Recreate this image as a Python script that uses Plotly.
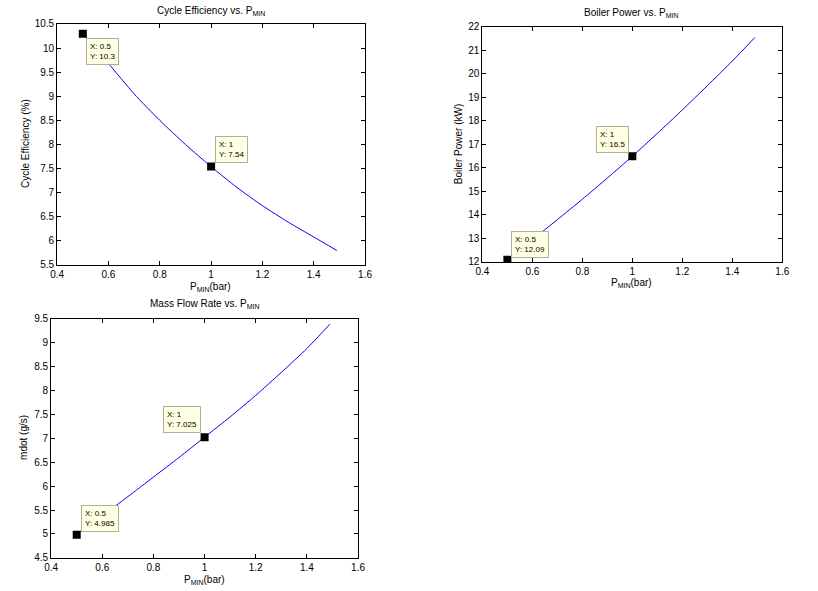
import plotly.graph_objects as go

# ---- data ----
p_min = [0.5, 0.6, 0.7, 0.8, 0.9, 1.0, 1.1, 1.2, 1.3, 1.4, 1.49]
cycle_eff = [10.3, 9.68, 9.05, 8.5, 8.0, 7.54, 7.11, 6.73, 6.39, 6.08, 5.80]
boiler_power = [12.09, 12.95, 13.8, 14.67, 15.57, 16.5, 17.47, 18.47, 19.5, 20.55, 21.55]
mdot = [4.985, 5.38, 5.78, 6.19, 6.6, 7.025, 7.45, 7.9, 8.38, 8.88, 9.39]

tip_idx = [0, 5]  # data tips at P_MIN = 0.5 and 1
tip_labels = {
    "cycle": ["10.3", "7.54"],
    "boiler": ["12.09", "16.5"],
    "mdot": ["4.985", "7.025"],
}

x_ticks = [0.4, 0.6, 0.8, 1.0, 1.2, 1.4, 1.6]
x_ticktext = ["0.4", "0.6", "0.8", "1", "1.2", "1.4", "1.6"]

W, H = 818, 591
FONT = "Arial, Liberation Sans, sans-serif"

# the page shows the figure slightly shifted and shrunk; compensate
SX, SY, OX, OY = 0.98, 0.98, 8.0, 5.0

def px_x(p):
    return ((p - OX) / SX) / W

def px_y(p):
    return 1 - ((p - OY) / SY) / H

fig = go.Figure()

panels = [
    # (xaxis, yaxis, y data, key, x domain px, y domain px, y range, dtick)
    ("x", "y", cycle_eff, "cycle", (58, 365), (23, 264), (5.5, 10.5), 0.5),
    ("x2", "y2", boiler_power, "boiler", (482, 781), (26, 261), (12, 22), 1),
    ("x3", "y3", mdot, "mdot", (52, 358), (318, 557), (4.5, 9.5), 0.5),
]

layout_axes = {}
for i, (xa, ya, ydata, key, xd, yd, yr, dt) in enumerate(panels):
    fig.add_trace(go.Scatter(x=p_min, y=ydata, mode="lines",
                             line=dict(color="#0000ff", width=1, shape="spline", smoothing=0.6),
                             xaxis=xa, yaxis=ya, showlegend=False, hoverinfo="skip"))
    fig.add_trace(go.Scatter(x=[p_min[j] for j in tip_idx], y=[ydata[j] for j in tip_idx],
                             mode="markers",
                             marker=dict(symbol="square", size=8, color="black"),
                             xaxis=xa, yaxis=ya, showlegend=False, hoverinfo="skip"))
    xname = "xaxis" if i == 0 else f"xaxis{i+1}"
    yname = "yaxis" if i == 0 else f"yaxis{i+1}"
    common = dict(showgrid=False, zeroline=False, showline=True, linecolor="black",
                  linewidth=1, mirror="ticks", ticks="inside", ticklen=4,
                  tickcolor="black", tickfont=dict(family=FONT, size=10, color="black"))
    layout_axes[xname] = dict(domain=[px_x(xd[0]), px_x(xd[1])], range=[0.4, 1.6],
                              tickvals=x_ticks, ticktext=x_ticktext,
                              anchor=ya, **common)
    layout_axes[yname] = dict(domain=[px_y(yd[1]), px_y(yd[0])], range=list(yr),
                              dtick=dt, tick0=yr[0], anchor=xa, **common)

fig.update_layout(width=W, height=H, autosize=False,
                  margin=dict(l=0, r=0, t=0, b=0),
                  paper_bgcolor="white", plot_bgcolor="white",
                  **layout_axes)

annotations = []

# titles
titles = [
    ("Cycle Efficiency vs. P<sub>MIN</sub>", 211, 10),
    ("Boiler Power vs. P<sub>MIN</sub>", 631, 12),
    ("Mass Flow Rate vs. P<sub>MIN</sub>", 205, 303),
]
for t, cx, cy in titles:
    annotations.append(dict(text=t, x=px_x(cx), y=px_y(cy), xref="paper", yref="paper",
                            showarrow=False, xanchor="center", yanchor="middle",
                            font=dict(family=FONT, size=10, color="black")))

# x labels
for cx, cy in [(211, 286), (631, 282), (205, 579)]:
    annotations.append(dict(text="P<sub>MIN</sub>(bar)", x=px_x(cx), y=px_y(cy),
                            xref="paper", yref="paper", showarrow=False,
                            xanchor="center", yanchor="middle",
                            font=dict(family=FONT, size=10, color="black")))

# y labels
for t, cx, cy in [("Cycle Efficiency (%)", 27, 143), ("Boiler Power (kW)", 459, 143),
                  ("mdot (g/s)", 25, 437)]:
    annotations.append(dict(text=t, x=px_x(cx), y=px_y(cy), xref="paper", yref="paper",
                            showarrow=False, xanchor="center", yanchor="middle",
                            textangle=-90,
                            font=dict(family=FONT, size=10, color="black")))

# data tips
tip_pos = {
    ("cycle", 0): ("left", "top", 3, -4),
    ("cycle", 1): ("left", "bottom", 4, 4),
    ("boiler", 0): ("left", "bottom", 4, 2),
    ("boiler", 1): ("right", "bottom", -3, 3),
    ("mdot", 0): ("left", "bottom", 4, 3),
    ("mdot", 1): ("right", "bottom", -4, 4),
}
for i, (xa, ya, ydata, key, xd, yd, yr, dt) in enumerate(panels):
    for k, j in enumerate(tip_idx):
        xa_, ya_, xs, ys = tip_pos[(key, k)]
        xlab = x_ticktext[x_ticks.index(p_min[j])] if p_min[j] in x_ticks else str(p_min[j])
        annotations.append(dict(
            text=f"X: {xlab}<br>Y: {tip_labels[key][k]}",
            x=p_min[j], y=ydata[j], xref=xa, yref=ya, showarrow=False,
            xanchor=xa_, yanchor=ya_, xshift=xs, yshift=ys, align="left",
            bgcolor="#ffffe1", bordercolor="#b0b0a0", borderwidth=1, borderpad=3,
            font=dict(family=FONT, size=8, color="black")))

fig.update_layout(annotations=annotations)

fig.write_html("out.html")
